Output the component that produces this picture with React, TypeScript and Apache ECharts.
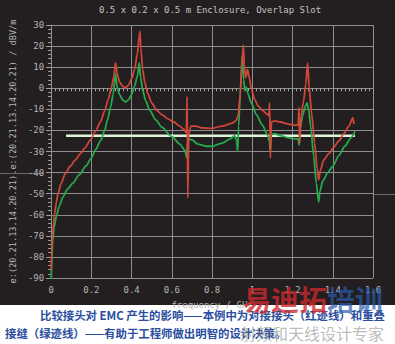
import React, { useEffect, useRef } from "react";
import * as echarts from "echarts";

const titleText = "0.5 x 0.2 x 0.5 m Enclosure, Overlap Slot";
const yAxisName = "e:(20.21.13.14.20.21).e:(20.21.13.14.20.21) / dBV/m";
const xAxisName = "frequency / GHz";
const captionLine1 = "比较接头对 EMC 产生的影响——本例中为对接接头（红迹线）和重叠";
const captionLine2 = "接缝（绿迹线）——有助于工程师做出明智的设计决策。";
const watermarkRed = "易迪拓";
const watermarkBlue = "培训";
const watermarkGray = "射频和天线设计专家";

const redTrace: [number, number][] = [
  [0, -86], [0.003, -78], [0.006, -71], [0.012, -64], [0.018, -59], [0.026, -54], [0.034, -50],
  [0.05, -45], [0.07, -40.5], [0.095, -37], [0.12, -34], [0.145, -31], [0.17, -28], [0.195, -24.5],
  [0.22, -20.5], [0.245, -16], [0.265, -11], [0.285, -5], [0.3, 0.5], [0.312, 6], [0.32, 12],
  [0.328, 7], [0.34, 3], [0.355, 1], [0.37, 0.3], [0.385, 1.5], [0.4, 4.5], [0.415, 9], [0.428, 16],
  [0.437, 24], [0.441, 27], [0.446, 19], [0.455, 9], [0.465, 3], [0.48, -2.5], [0.5, -7],
  [0.525, -10.5], [0.55, -12.5], [0.58, -14.5], [0.61, -16], [0.64, -18], [0.66, -19.5],
  [0.672, -21], [0.676, -4], [0.679, -52], [0.684, -22], [0.695, -18], [0.72, -18], [0.75, -18.8],
  [0.8, -19], [0.85, -18], [0.9, -16.5], [0.918, -15.5], [0.93, -13], [0.94, -3], [0.948, 10],
  [0.955, 20.5], [0.961, 10], [0.967, 5], [0.976, 9], [0.985, 5], [0.995, 0], [1.01, -5],
  [1.03, -8.5], [1.05, -10.5], [1.07, -12], [1.082, -13], [1.086, -7], [1.09, -33], [1.095, -16],
  [1.11, -15.5], [1.14, -16], [1.18, -17], [1.21, -17.5], [1.228, -17.5], [1.232, -9], [1.236, -26],
  [1.242, -13], [1.255, -6], [1.266, 2], [1.275, 12], [1.283, 0], [1.295, -12], [1.31, -26],
  [1.322, -38], [1.33, -43.5], [1.338, -39], [1.355, -34], [1.38, -31], [1.405, -28], [1.43, -25],
  [1.455, -21.5], [1.48, -18], [1.5, -14], [1.505, -17],
];

const greenTrace: [number, number][] = [
  [0, -92], [0.004, -80], [0.008, -72], [0.015, -66], [0.025, -61], [0.04, -56], [0.059, -51.5],
  [0.08, -48], [0.108, -45], [0.14, -41], [0.172, -37], [0.2, -33], [0.222, -29], [0.245, -25],
  [0.266, -20], [0.28, -15], [0.295, -9], [0.308, -3], [0.32, 7], [0.328, 0.5], [0.34, -3],
  [0.355, -5.5], [0.37, -6.5], [0.385, -5.5], [0.4, -3], [0.415, 1], [0.428, 5.5], [0.438, 12],
  [0.445, 5], [0.455, -1], [0.47, -6], [0.49, -10.5], [0.52, -15], [0.55, -18.5], [0.6, -23],
  [0.64, -26.5], [0.665, -29.5], [0.674, -33], [0.678, -26], [0.685, -24], [0.7, -24.5],
  [0.73, -26.5], [0.77, -27.5], [0.8, -27.5], [0.85, -26], [0.89, -24], [0.912, -22.5],
  [0.922, -25], [0.927, -30], [0.932, -18], [0.94, -2], [0.95, 15.5], [0.957, 4], [0.963, -1],
  [0.97, 0.5], [0.98, -3], [0.995, -7], [1.02, -12.5], [1.05, -17.5], [1.075, -22], [1.085, -25],
  [1.089, -30], [1.094, -22], [1.11, -21.5], [1.14, -22.5], [1.18, -23.5], [1.21, -24],
  [1.228, -24], [1.233, -27], [1.238, -19], [1.25, -13], [1.262, -9], [1.272, -7], [1.28, -10],
  [1.29, -18], [1.305, -32], [1.318, -45], [1.33, -54], [1.336, -49], [1.35, -44], [1.375, -40],
  [1.4, -37], [1.43, -32], [1.46, -27.5], [1.49, -23.5], [1.51, -20.5],
];

const limitLine: [number, number][] = [
  [0.074, -22.5],
  [1.51, -22.5],
];

const yMin = -90;
const yMax = 30;
const yStep = 10;
const xMin = 0;
const xMax = 1.6;
const xStep = 0.2;

const MONO = "DejaVu Sans Mono";
const CJK = "Noto Sans CJK SC";

export default function App() {
  const ref = useRef<HTMLDivElement>(null);
  useEffect(() => {
    if (!ref.current) return;
    const chart = echarts.init(ref.current, undefined, { renderer: "svg" });
    const gridColor = "#8e8e8e";
    const labelColor = "#b4b4b4";
    chart.setOption({
      animation: false,
      backgroundColor: "transparent",
      grid: { left: 48, right: 22, top: 25, bottom: 66, containLabel: false },
      xAxis: {
        type: "value",
        min: xMin,
        max: xMax,
        interval: xStep,
        name: xAxisName,
        nameLocation: "middle",
        nameGap: 22,
        nameTextStyle: { color: labelColor, fontFamily: MONO, fontSize: 9 },
        axisLine: { show: true, lineStyle: { color: gridColor } },
        axisTick: { show: true, length: 5, lineStyle: { color: "#a0a0a0" } },
        minorTick: { show: true, splitNumber: 10, length: 3, lineStyle: { color: "#a0a0a0" } },
        axisLabel: {
          color: labelColor,
          fontFamily: MONO,
          fontSize: 9,
          margin: 7,
          formatter: (v: number) => (Math.abs(v) < 1e-9 ? "0" : String(Math.round(v * 10) / 10)),
        },
        splitLine: { show: true, lineStyle: { color: gridColor, width: 1 } },
      },
      yAxis: {
        type: "value",
        min: yMin,
        max: yMax,
        interval: yStep,
        name: yAxisName,
        nameLocation: "middle",
        nameRotate: 90,
        nameGap: 34,
        nameTextStyle: { color: labelColor, fontFamily: MONO, fontSize: 8.6 },
        axisLine: { show: true, lineStyle: { color: gridColor } },
        axisTick: { show: true, length: 5, lineStyle: { color: "#a0a0a0" } },
        minorTick: { show: true, splitNumber: 5, length: 3, lineStyle: { color: "#a0a0a0" } },
        axisLabel: { color: labelColor, fontFamily: MONO, fontSize: 9, margin: 7 },
        splitLine: { show: true, lineStyle: { color: gridColor, width: 1 } },
      },
      series: [
        {
          type: "line",
          data: limitLine,
          showSymbol: false,
          symbol: "none",
          lineStyle: { color: "#dff3d8", width: 2.5 },
          z: 3,
        },
        {
          type: "line",
          data: greenTrace,
          showSymbol: false,
          symbol: "none",
          smooth: 0.25,
          smoothMonotone: "x",
          lineStyle: { color: "#26a84c", width: 1.8 },
          z: 4,
        },
        {
          type: "line",
          data: redTrace,
          showSymbol: false,
          symbol: "none",
          smooth: 0.25,
          smoothMonotone: "x",
          lineStyle: { color: "#d9483a", width: 1.8, opacity: 0.95 },
          z: 5,
        },
      ],
      graphic: [
        {
          type: "text",
          left: 210 - 111,
          top: 5,
          style: { text: titleText, fill: "#c4c4c4", font: `9px "${MONO}"` },
        },
        {
          type: "line",
          shape: { x1: 0, y1: 173.5, x2: 44, y2: 173.5 },
          style: { stroke: "#6a6a6a", lineWidth: 1 },
        },
        {
          type: "line",
          shape: { x1: 374, y1: 194.5, x2: 395, y2: 194.5 },
          style: { stroke: "#6a6a6a", lineWidth: 1 },
        },
        {
          type: "text",
          x: 40,
          y: 315,
          style: {
            text: captionLine1,
            fill: "#2a4d9e",
            font: `bold 11.4px "${CJK}"`,
            textVerticalAlign: "middle",
          },
          z: 10,
        },
        {
          type: "text",
          x: 5,
          y: 333,
          style: {
            text: captionLine2,
            fill: "#2a4d9e",
            font: `bold 11.4px "${CJK}"`,
            textVerticalAlign: "middle",
          },
          z: 10,
        },
        {
          type: "text",
          x: 243,
          y: 299,
          style: {
            text: watermarkRed,
            fill: "rgba(205,40,45,0.78)",
            font: `bold 28px "${CJK}"`,
            textVerticalAlign: "middle",
          },
          z: 20,
        },
        {
          type: "text",
          x: 327,
          y: 299,
          style: {
            text: watermarkBlue,
            fill: "rgba(40,90,175,0.7)",
            font: `bold 28px "${CJK}"`,
            textVerticalAlign: "middle",
          },
          z: 20,
        },
        {
          type: "text",
          x: 240,
          y: 333,
          style: {
            text: watermarkGray,
            fill: "rgba(150,150,150,0.65)",
            font: `16px "${CJK}"`,
            textVerticalAlign: "middle",
          },
          z: 20,
        },
      ],
    });
    return () => chart.dispose();
  }, []);
  return (
    <div
      style={{
        position: "fixed",
        left: 0,
        top: 0,
        width: 395,
        height: 344,
        background: "linear-gradient(#231f20 0px, #231f20 305px, #ffffff 305px, #ffffff 344px)",
      }}
    >
      <div ref={ref} style={{ width: 395, height: 344 }} />
    </div>
  );
}
